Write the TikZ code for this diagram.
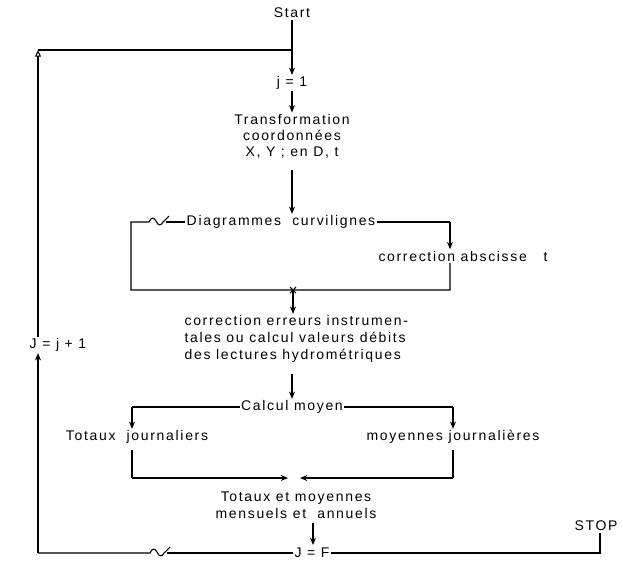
\documentclass[tikz,border=0pt]{standalone}
\usepackage{fontspec}
\setmainfont{Liberation Sans}[LetterSpace=12.0]
\usetikzlibrary{arrows.meta,calc}
\tikzset{
  lbl/.style={inner sep=1pt, font=\fontsize{10.5}{12}\selectfont},
  conn/.style={line width=0.8pt},
  arr/.style={conn, -{Stealth[length=5.5pt,width=4.5pt]}},
  oarr/.style={conn, -{Triangle[open,length=5pt,width=4.5pt]}},
}
\begin{document}
\begin{tikzpicture}[x=0.75pt,y=-0.75pt]
\useasboundingbox (0,0) rectangle (623,562);
% nodes
\node[lbl] (start) at (292,13) {Start};
\node[lbl] (j1) at (292,83) {j = 1};
\node[lbl, align=center] (trans) at (292,136) {Transformation\\coordonnées\\X, Y ; en D, t};
\node[lbl] (diag) at (281,222) {Diagrammes\ \ curvilignes};
\node[lbl] (corr) at (463,256) {correction abscisse\ \ \ t};
\node[lbl, align=left, anchor=west, font=\fontsize{10.5}{12.8}\selectfont] (err) at (183,339) {correction erreurs instrumen-\\tales ou calcul valeurs débits\\des lectures hydrométriques};
\node[lbl] (calc) at (292,407) {Calcul moyen};
\node[lbl] (tj) at (137,437) {Totaux\ \ journaliers};
\node[lbl] (mj) at (453,437) {moyennes journalières};
\node[lbl, align=center, font=\fontsize{10.5}{12.8}\selectfont] (tm) at (296,505) {Totaux et moyennes\\mensuels et\ \ annuels};
\node[lbl] (jf) at (312,553) {J = F};
\node[lbl] (stop) at (596,526) {STOP};
\node[lbl] (jj) at (58,345) {J = j + 1};
% coordinates
\coordinate (top) at (292,50);
\coordinate (tl) at (38,50);
\coordinate (dl) at (131,222);
\coordinate (dr) at (450,222);
\coordinate (bl) at (131,290);
\coordinate (br) at (450,290);
\coordinate (cx) at (293,290);
\coordinate (cl) at (132,407);
\coordinate (cr) at (453,407);
\coordinate (ml) at (132,478);
\coordinate (mr) at (453,478);
\coordinate (bbl) at (38,553);
\coordinate (bbr) at (600,553);
\coordinate (fa) at (313,523);
\coordinate (fb) at (313,545);
% connectors
\draw[arr] (start) -- (j1);
\draw[oarr] (tl |- jj.north) -- (tl);
\draw[conn] (tl) -- (top);
\draw[arr] (j1) -- (trans);
\draw[arr] (trans.south) ++(0,10) -- (trans.south |- diag.north);
% loop around diagrams
\draw[conn] (diag.west) -- (166,222);
\draw[conn] (169,216) -- (163,222) .. controls (161,226) and (158,226) .. (156,221)
  .. controls (154,217) and (151,217) .. (149,222) -- (dl) -- (bl) -- (br) -- (corr.south -| br);
\draw[conn] (diag.east) -- (dr);
\draw[arr] (dr) -- (corr.north -| dr);
% cross
\draw[conn] ($(cx)+(-3,-3)$) -- ($(cx)+(3,3)$);
\draw[conn] ($(cx)+(-3,3)$) -- ($(cx)+(3,-3)$);
\draw[arr] (cx) -- (cx |- err.north);
\draw[arr] (err.south -| calc) ++(0,10) -- (calc.north);
% branches
\draw[conn] (calc.west) -- (cl);
\draw[arr] (cl) -- (cl |- tj.north);
\draw[conn] (calc.east) -- (cr);
\draw[arr] (cr) -- (cr |- mj.north);
\draw[conn] (tj.south -| ml) ++(0,5) -- (ml);
\draw[arr] (ml) -- (288,478);
\draw[conn] (mj.south -| mr) ++(0,5) -- (mr);
\draw[arr] (mr) -- (300,478);
\draw[arr] (fa) -- (fb);
% bottom
\draw[conn] (jf.west) -- (167,553);
\draw[conn] (170,547) -- (164,553) .. controls (162,557) and (159,557) .. (157,552)
  .. controls (155,548) and (152,548) .. (150,553) -- (bbl);
\draw[arr] (bbl) -- (bbl |- jj.south);
\draw[conn] (jf.east) -- (bbr) -- (stop.south -| bbr);
\end{tikzpicture}
\end{document}
